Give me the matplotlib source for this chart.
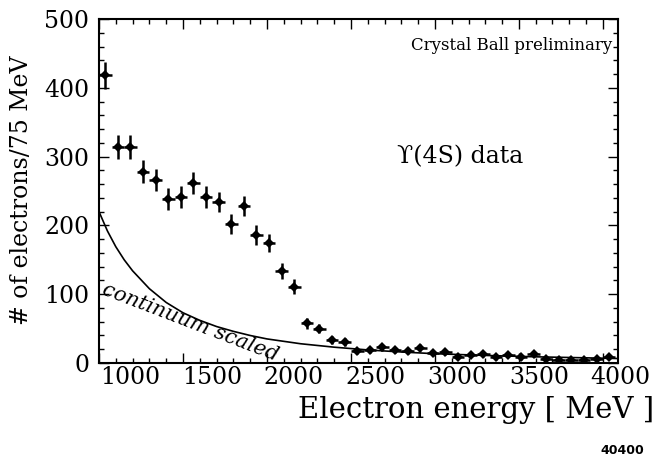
import numpy as np
import matplotlib
matplotlib.use("Agg")
import matplotlib.pyplot as plt
from matplotlib.ticker import MultipleLocator
import matplotlib.transforms as mtransforms

# ---- data ----
bin_width = 75.0
energy = [1037.5 + 75 * k for k in range(41)]
counts = [418, 314, 314, 278, 266, 239, 241, 261, 241, 234, 202, 228, 186, 174,
          134, 111, 58, 50, 33, 31, 17, 19, 23, 19, 17, 22, 14, 16, 9, 12, 13,
          8, 12, 8, 13, 6, 5, 5, 4, 6, 9]
errors = [20, 18, 18, 17, 16, 16, 16, 16, 16, 15, 14, 15, 14, 13,
          12, 11, 8, 7, 6, 6, 4, 4, 5, 4, 4, 5, 4, 4, 3, 3, 4,
          3, 3, 3, 4, 2, 2, 2, 2, 2, 3]

cont_energy = [1000, 1050, 1100, 1150, 1200, 1300, 1400, 1500, 1600, 1700, 1800,
               1900, 2000, 2200, 2400, 2600, 2800, 3000, 3300, 3600, 3900, 4090]
cont_counts = [220, 192, 169, 150, 134, 108, 88, 73, 62, 53, 46,
               40, 35, 28, 23, 19, 16, 13.5, 11, 9, 7.5, 6.5]

xticks = [1000, 1500, 2000, 2500, 3000, 3500, 4000]
yticks = [0, 100, 200, 300, 400, 500]

serif = "DejaVu Serif"

fig = plt.figure(figsize=(6.55, 4.59), dpi=100)
ax = fig.add_axes([99 / 655, 1 - 363 / 459, (618 - 99) / 655, (363 - 19) / 459])

ax.errorbar(energy, counts, yerr=errors, xerr=bin_width / 2, fmt="D",
            color="black", ms=5, elinewidth=1.8, capsize=0, mew=0)
ax.plot(cont_energy, cont_counts, color="black", lw=1.2)

ax.set_xlim(1000, 4090)
ax.set_ylim(0, 500)
ax.set_xticks(xticks)
ax.set_yticks(yticks)
ax.xaxis.set_minor_locator(MultipleLocator(100))
ax.yaxis.set_minor_locator(MultipleLocator(20))
ax.tick_params(which="both", direction="in", top=True, right=True, width=1.0)
ax.tick_params(which="major", length=7, pad=2)
ax.tick_params(which="minor", length=3.5)
for s in ax.spines.values():
    s.set_linewidth(1.5)

ax.set_xticklabels([str(v) for v in xticks], fontsize=17, family=serif)
ax.set_yticklabels([str(v) for v in yticks], fontsize=17, family=serif)
ax.tick_params(axis="y", pad=7)

# shift x tick labels as in the original
for i, lab in enumerate(ax.get_xticklabels()):
    dx = (31 - 2.2 * i) / 100.0
    lab.set_transform(lab.get_transform() + mtransforms.ScaledTranslation(dx, 0, fig.dpi_scale_trans))

fig.text(22 / 655, 1 - 190 / 459, "# of electrons/75 MeV", rotation=90,
         ha="center", va="center", fontsize=17, family=serif)
fig.text(654 / 655, 1 - 410 / 459, "Electron energy [ MeV ]", ha="right",
         va="center", fontsize=21, family=serif)
fig.text(622 / 655, 1 - 450 / 459, "40400", ha="center", va="center",
         fontsize=9, fontweight="bold", family="DejaVu Sans")

fig.text(512 / 655, 1 - 46 / 459, "Crystal Ball preliminary", ha="center",
         va="center", fontsize=12, family=serif)
fig.text(460 / 655, 1 - 157 / 459, "\u03d2(4S) data", ha="center",
         va="center", fontsize=17, family=serif)
fig.text(190 / 655, 1 - 322 / 459, "continuum scaled", rotation=-21,
         ha="center", va="center", fontsize=15, family=serif, style="italic")

fig.savefig("out.png", dpi=100)
